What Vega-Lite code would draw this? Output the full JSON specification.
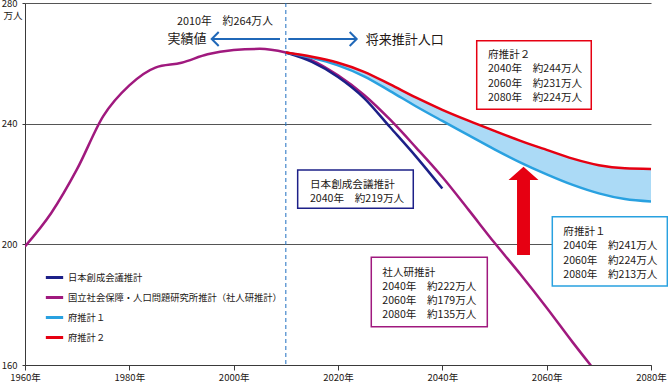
{
  "$schema": "https://vega.github.io/schema/vega-lite/v6.json",
  "width": 626,
  "height": 362,
  "autosize": {"type": "none"},
  "padding": {"left": 25, "top": 3, "right": 17, "bottom": 24},
  "background": "white",
  "config": {
    "view": {"stroke": null},
    "font": "Noto Sans CJK JP",
    "axis": {
      "labelFont": "Noto Sans CJK JP",
      "labelFontSize": 9.5,
      "labelColor": "#231815",
      "domainColor": "#3a3a3a",
      "tickColor": "#3a3a3a",
      "gridColor": "#555555",
      "gridWidth": 1
    },
    "text": {"font": "Noto Sans CJK JP", "color": "#231815"}
  },
  "datasets": {
    "pop": [
      {"year": 1960, "value": 199.3, "series": "国立社会保障・人口問題研究所推計（社人研推計）"},
      {"year": 1965, "value": 210.3, "series": "国立社会保障・人口問題研究所推計（社人研推計）"},
      {"year": 1970, "value": 225.0, "series": "国立社会保障・人口問題研究所推計（社人研推計）"},
      {"year": 1975, "value": 242.5, "series": "国立社会保障・人口問題研究所推計（社人研推計）"},
      {"year": 1980, "value": 252.7, "series": "国立社会保障・人口問題研究所推計（社人研推計）"},
      {"year": 1985, "value": 258.6, "series": "国立社会保障・人口問題研究所推計（社人研推計）"},
      {"year": 1990, "value": 260.2, "series": "国立社会保障・人口問題研究所推計（社人研推計）"},
      {"year": 1995, "value": 263.0, "series": "国立社会保障・人口問題研究所推計（社人研推計）"},
      {"year": 2000, "value": 264.4, "series": "国立社会保障・人口問題研究所推計（社人研推計）"},
      {"year": 2005, "value": 264.8, "series": "国立社会保障・人口問題研究所推計（社人研推計）"},
      {"year": 2010, "value": 263.6, "series": "国立社会保障・人口問題研究所推計（社人研推計）"},
      {"year": 2015, "value": 261.0, "series": "国立社会保障・人口問題研究所推計（社人研推計）"},
      {"year": 2020, "value": 256.0, "series": "国立社会保障・人口問題研究所推計（社人研推計）"},
      {"year": 2025, "value": 249.5, "series": "国立社会保障・人口問題研究所推計（社人研推計）"},
      {"year": 2030, "value": 241.3, "series": "国立社会保障・人口問題研究所推計（社人研推計）"},
      {"year": 2035, "value": 232.0, "series": "国立社会保障・人口問題研究所推計（社人研推計）"},
      {"year": 2040, "value": 222.3, "series": "国立社会保障・人口問題研究所推計（社人研推計）"},
      {"year": 2045, "value": 211.5, "series": "国立社会保障・人口問題研究所推計（社人研推計）"},
      {"year": 2050, "value": 200.5, "series": "国立社会保障・人口問題研究所推計（社人研推計）"},
      {"year": 2055, "value": 190.0, "series": "国立社会保障・人口問題研究所推計（社人研推計）"},
      {"year": 2060, "value": 179.0, "series": "国立社会保障・人口問題研究所推計（社人研推計）"},
      {"year": 2065, "value": 167.5, "series": "国立社会保障・人口問題研究所推計（社人研推計）"},
      {"year": 2070, "value": 156.5, "series": "国立社会保障・人口問題研究所推計（社人研推計）"},
      {"year": 2075, "value": 145.5, "series": "国立社会保障・人口問題研究所推計（社人研推計）"},
      {"year": 2080, "value": 135.0, "series": "国立社会保障・人口問題研究所推計（社人研推計）"},
      {"year": 2010, "value": 263.6, "series": "日本創成会議推計"},
      {"year": 2015, "value": 260.5, "series": "日本創成会議推計"},
      {"year": 2020, "value": 255.5, "series": "日本創成会議推計"},
      {"year": 2025, "value": 248.5, "series": "日本創成会議推計"},
      {"year": 2030, "value": 238.8, "series": "日本創成会議推計"},
      {"year": 2035, "value": 229.0, "series": "日本創成会議推計"},
      {"year": 2040, "value": 218.5, "series": "日本創成会議推計"},
      {"year": 2010, "value": 263.6, "series": "府推計１"},
      {"year": 2015, "value": 261.8, "series": "府推計１"},
      {"year": 2020, "value": 259.3, "series": "府推計１"},
      {"year": 2025, "value": 255.7, "series": "府推計１"},
      {"year": 2030, "value": 250.8, "series": "府推計１"},
      {"year": 2035, "value": 245.7, "series": "府推計１"},
      {"year": 2040, "value": 240.9, "series": "府推計１"},
      {"year": 2045, "value": 236.2, "series": "府推計１"},
      {"year": 2050, "value": 231.5, "series": "府推計１"},
      {"year": 2055, "value": 227.1, "series": "府推計１"},
      {"year": 2060, "value": 223.2, "series": "府推計１"},
      {"year": 2065, "value": 219.7, "series": "府推計１"},
      {"year": 2070, "value": 216.9, "series": "府推計１"},
      {"year": 2075, "value": 215.0, "series": "府推計１"},
      {"year": 2080, "value": 214.2, "series": "府推計１"},
      {"year": 2010, "value": 263.6, "series": "府推計２"},
      {"year": 2015, "value": 262.2, "series": "府推計２"},
      {"year": 2020, "value": 260.2, "series": "府推計２"},
      {"year": 2025, "value": 257.2, "series": "府推計２"},
      {"year": 2030, "value": 253.0, "series": "府推計２"},
      {"year": 2035, "value": 248.6, "series": "府推計２"},
      {"year": 2040, "value": 244.6, "series": "府推計２"},
      {"year": 2045, "value": 241.0, "series": "府推計２"},
      {"year": 2050, "value": 237.6, "series": "府推計２"},
      {"year": 2055, "value": 234.3, "series": "府推計２"},
      {"year": 2060, "value": 231.3, "series": "府推計２"},
      {"year": 2065, "value": 228.4, "series": "府推計２"},
      {"year": 2070, "value": 226.2, "series": "府推計２"},
      {"year": 2075, "value": 225.2, "series": "府推計２"},
      {"year": 2080, "value": 225.0, "series": "府推計２"}
    ]
  },
  "layer": [
    {
      "data": {"name": "pop"},
      "transform": [
        {"filter": "datum.series === '府推計１' || datum.series === '府推計２'"},
        {"pivot": "series", "value": "value", "groupby": ["year"]}
      ],
      "mark": {"type": "area", "interpolate": "monotone", "color": "#abdaf6", "opacity": 1},
      "encoding": {
        "x": {"field": "year", "type": "quantitative"},
        "y": {"field": "府推計１", "type": "quantitative"},
        "y2": {"field": "府推計２"}
      }
    },
    {
      "data": {"values": [{}]},
      "mark": {"type": "rule", "color": "#1f6fc0", "strokeDash": [4, 3], "strokeWidth": 1},
      "encoding": {"x": {"datum": 2010, "type": "quantitative"}}
    },
    {
      "data": {"name": "pop"},
      "mark": {"type": "line", "interpolate": "monotone", "strokeWidth": 2.5, "clip": true},
      "encoding": {
        "x": {
          "field": "year",
          "type": "quantitative",
          "scale": {"domain": [1960, 2080], "nice": false, "zero": false},
          "axis": {
            "values": [1960, 1980, 2000, 2020, 2040, 2060, 2080],
            "labelExpr": "datum.value + '年'",
            "grid": false,
            "tickSize": 5,
            "labelPadding": 2,
            "labelFlush": false,
            "labelOverlap": false,
            "title": null
          }
        },
        "y": {
          "field": "value",
          "type": "quantitative",
          "scale": {"domain": [160, 280], "nice": false, "zero": false},
          "axis": {
            "values": [160, 200, 240, 280],
            "grid": true,
            "tickSize": 3,
            "labelPadding": 5,
            "title": "万人",
            "titleAngle": 0,
            "titleX": -22,
            "titleY": 12.5,
            "titleAlign": "left",
            "titleBaseline": "middle",
            "titleFontSize": 9.5,
            "titleFontWeight": "normal",
            "titleFont": "Noto Sans CJK JP",
            "titleColor": "#231815"
          }
        },
        "color": {
          "field": "series",
          "type": "nominal",
          "scale": {
            "domain": ["日本創成会議推計", "国立社会保障・人口問題研究所推計（社人研推計）", "府推計１", "府推計２"],
            "range": ["#1d2088", "#a0197e", "#29a1e0", "#e60012"]
          },
          "legend": {
            "orient": "none",
            "legendX": 19,
            "legendY": 264,
            "title": null,
            "padding": 0,
            "symbolType": "stroke",
            "symbolSize": 300,
            "symbolStrokeWidth": 3,
            "labelFont": "Noto Sans CJK JP",
            "labelFontSize": 9.3,
            "labelColor": "#231815",
            "labelOffset": 3,
            "labelLimit": 400,
            "rowPadding": 3
          }
        }
      }
    },
    {
      "data": {"values": [{}]},
      "mark": {"type": "rule", "color": "#2068b8", "strokeWidth": 2},
      "encoding": {
        "x": {"datum": 1995.9, "type": "quantitative"},
        "x2": {"datum": 2008.88},
        "y": {"datum": 268.07, "type": "quantitative"}
      }
    },
    {
      "data": {"values": [{}]},
      "mark": {"type": "rule", "color": "#2068b8", "strokeWidth": 2},
      "encoding": {
        "x": {"datum": 2010.47, "type": "quantitative"},
        "x2": {"datum": 2023.45},
        "y": {"datum": 268.07, "type": "quantitative"}
      }
    },
    {
      "data": {"values": [{}]},
      "mark": {"type": "point", "shape": "M1,-1L0,0L1,1", "filled": false, "size": 196, "strokeWidth": 2, "color": "#2068b8", "opacity": 1},
      "encoding": {
        "x": {"datum": 1995.79, "type": "quantitative"},
        "y": {"datum": 268.07, "type": "quantitative"}
      }
    },
    {
      "data": {"values": [{}]},
      "mark": {"type": "point", "shape": "M-1,-1L0,0L-1,1", "filled": false, "size": 196, "strokeWidth": 2, "color": "#2068b8", "opacity": 1},
      "encoding": {
        "x": {"datum": 2023.58, "type": "quantitative"},
        "y": {"datum": 268.07, "type": "quantitative"}
      }
    },
    {
      "data": {"values": [{}]},
      "mark": {"type": "text", "text": "2010年　約264万人", "fontSize": 10.8, "align": "center", "baseline": "middle"},
      "encoding": {
        "x": {"datum": 1998.34, "type": "quantitative"},
        "y": {"datum": 273.7, "type": "quantitative"}
      }
    },
    {
      "data": {"values": [{}]},
      "mark": {"type": "text", "text": "実績値", "fontSize": 13, "align": "center", "baseline": "middle"},
      "encoding": {
        "x": {"datum": 1991.05, "type": "quantitative"},
        "y": {"datum": 267.97, "type": "quantitative"}
      }
    },
    {
      "data": {"values": [{}]},
      "mark": {"type": "text", "text": "将来推計人口", "fontSize": 13, "align": "center", "baseline": "middle"},
      "encoding": {
        "x": {"datum": 2032.8, "type": "quantitative"},
        "y": {"datum": 267.74, "type": "quantitative"}
      }
    },
    {
      "data": {"values": [{}]},
      "mark": {"type": "point", "shape": "M0,-0.98L0.333,-0.687L0.144,-0.687L0.144,0.98L-0.144,0.98L-0.144,-0.687L-0.333,-0.687Z", "filled": true, "size": 8100, "color": "#e60012", "opacity": 1, "strokeWidth": 0},
      "encoding": {
        "x": {"datum": 2055.56, "type": "quantitative"},
        "y": {"datum": 211.08, "type": "quantitative"}
      }
    },
    {
      "data": {"values": [{}]},
      "mark": {"type": "rect", "fill": "white", "stroke": "#e60012", "strokeWidth": 1.5, "clip": false},
      "encoding": {
        "x": {"datum": 2046.59, "type": "quantitative"},
        "x2": {"datum": 2068.55},
        "y": {"datum": 267.5, "type": "quantitative"},
        "y2": {"datum": 244.76}
      }
    },
    {
      "data": {"values": [{}]},
      "mark": {"type": "text", "text": ["府推計２", "2040年　約244万人", "2060年　約231万人", "2080年　約224万人"], "fontSize": 10.6, "align": "left", "baseline": "top", "lineHeight": 14.5},
      "encoding": {
        "x": {"datum": 2048.75, "type": "quantitative"},
        "y": {"datum": 264.5, "type": "quantitative"}
      }
    },
    {
      "data": {"values": [{}]},
      "mark": {"type": "rect", "fill": "white", "stroke": "#1d2088", "strokeWidth": 1.5, "clip": false},
      "encoding": {
        "x": {"datum": 2012.27, "type": "quantitative"},
        "x2": {"datum": 2034.43},
        "y": {"datum": 224.64, "type": "quantitative"},
        "y2": {"datum": 211.94}
      }
    },
    {
      "data": {"values": [{}]},
      "mark": {"type": "text", "text": ["日本創成会議推計", "2040年　約219万人"], "fontSize": 10.6, "align": "left", "baseline": "top", "lineHeight": 14.3},
      "encoding": {
        "x": {"datum": 2014.63, "type": "quantitative"},
        "y": {"datum": 221.36, "type": "quantitative"}
      }
    },
    {
      "data": {"values": [{}]},
      "mark": {"type": "rect", "fill": "white", "stroke": "#a0197e", "strokeWidth": 1.5, "clip": false},
      "encoding": {
        "x": {"datum": 2026.38, "type": "quantitative"},
        "x2": {"datum": 2048.62},
        "y": {"datum": 195.7, "type": "quantitative"},
        "y2": {"datum": 172.7}
      }
    },
    {
      "data": {"values": [{}]},
      "mark": {"type": "text", "text": ["社人研推計", "2040年　約222万人", "2060年　約179万人", "2080年　約135万人"], "fontSize": 10.6, "align": "left", "baseline": "top", "lineHeight": 14.2},
      "encoding": {
        "x": {"datum": 2028.49, "type": "quantitative"},
        "y": {"datum": 192.2, "type": "quantitative"}
      }
    },
    {
      "data": {"values": [{}]},
      "mark": {"type": "rect", "fill": "white", "stroke": "#29a1e0", "strokeWidth": 1.5, "clip": false},
      "encoding": {
        "x": {"datum": 2061.08, "type": "quantitative"},
        "x2": {"datum": 2083.13},
        "y": {"datum": 209.16, "type": "quantitative"},
        "y2": {"datum": 186.19}
      }
    },
    {
      "data": {"values": [{}]},
      "mark": {"type": "text", "text": ["府推計１", "2040年　約241万人", "2060年　約224万人", "2080年　約213万人"], "fontSize": 10.6, "align": "left", "baseline": "top", "lineHeight": 14.2},
      "encoding": {
        "x": {"datum": 2063.19, "type": "quantitative"},
        "y": {"datum": 205.65, "type": "quantitative"}
      }
    }
  ]
}
